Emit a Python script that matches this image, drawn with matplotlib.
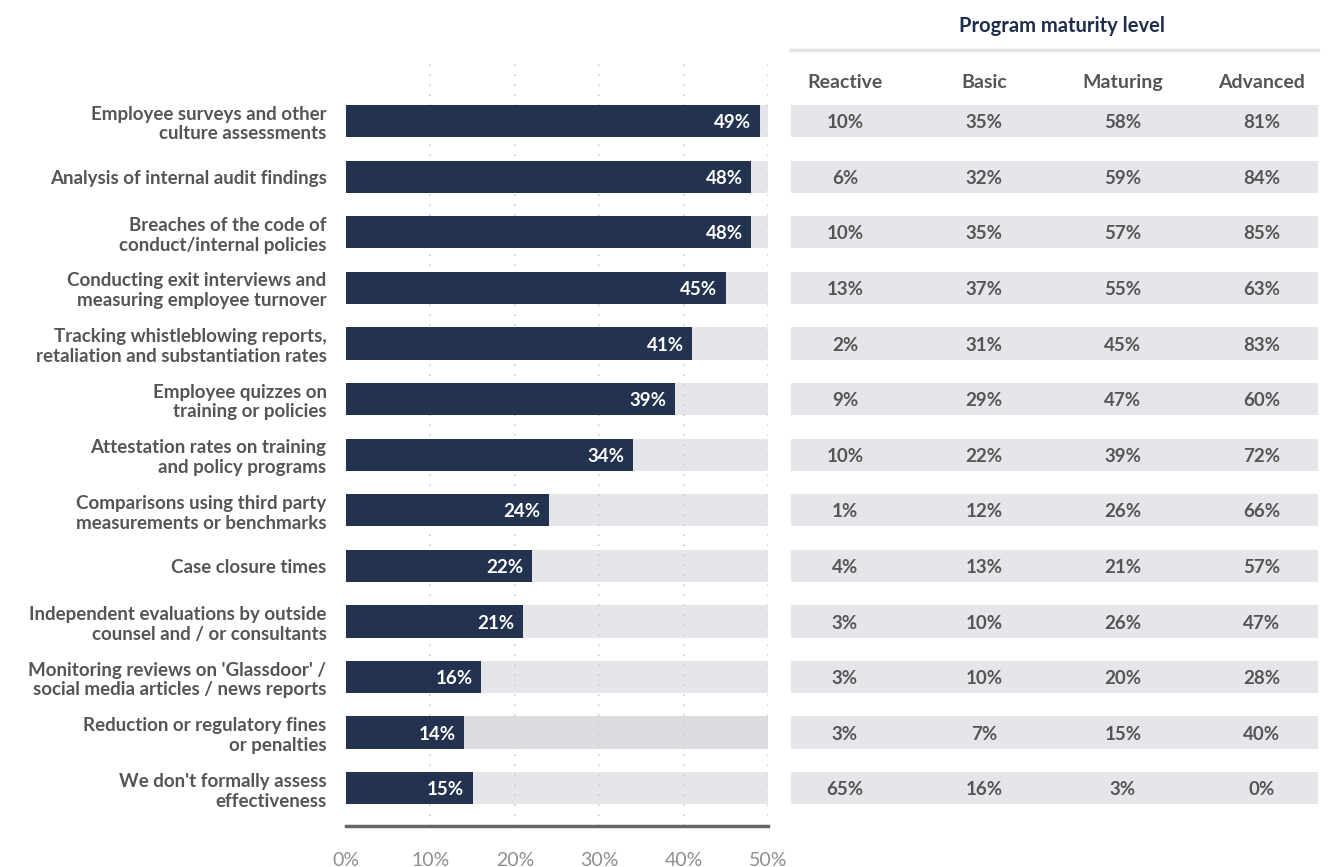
import matplotlib.pyplot as plt

plt.rcParams["font.family"] = ["Lato", "DejaVu Sans"]

categories = [
    "Employee surveys and other\nculture assessments",
    "Analysis of internal audit findings",
    "Breaches of the code of\nconduct/internal policies",
    "Conducting exit interviews and\nmeasuring employee turnover",
    "Tracking whistleblowing reports,\nretaliation and substantiation rates",
    "Employee quizzes on\ntraining or policies",
    "Attestation rates on training\nand policy programs",
    "Comparisons using third party\nmeasurements or benchmarks",
    "Case closure times",
    "Independent evaluations by outside\ncounsel and / or consultants",
    "Monitoring reviews on 'Glassdoor' /\nsocial media articles / news reports",
    "Reduction or regulatory fines\nor penalties",
    "We don't formally assess\neffectiveness",
]
overall = [49, 48, 48, 45, 41, 39, 34, 24, 22, 21, 16, 14, 15]

levels = ["Reactive", "Basic", "Maturing", "Advanced"]
reactive = [10, 6, 10, 13, 2, 9, 10, 1, 4, 3, 3, 3, 65]
basic = [35, 32, 35, 37, 31, 29, 22, 12, 13, 10, 10, 7, 16]
maturing = [58, 59, 57, 55, 45, 47, 39, 26, 21, 26, 20, 15, 3]
advanced = [81, 84, 85, 63, 83, 60, 72, 66, 57, 47, 28, 40, 0]
xticks = [0, 10, 20, 30, 40, 50]

navy = "#22324f"
track = "#e5e6e9"
text_gray = "#555555"

W, H = 1329, 867
fig = plt.figure(figsize=(W / 100, H / 100), dpi=100)

top_px, bot_px = 60, 826
ax_box = [346 / W, 1 - bot_px / H, (768 - 346) / W, (bot_px - top_px) / H]
ax = fig.add_axes(ax_box)
n = len(categories)
ylim = (12.68, -1.1)
rows = list(range(n))
bar_h = 0.58

track_colors = [track] * n
track_colors[11] = "#dcdce0"
ax.barh(rows, [50] * n, height=bar_h, color=track_colors, zorder=1)
ax.barh(rows, overall, height=bar_h, color=navy, zorder=3)
for xv in xticks[1:]:
    ax.axvline(xv, color="#cfcfcf", lw=1.2, ls=(0, (1, 5)), zorder=2)
for y, v in zip(rows, overall):
    ax.text(v - 1.0, y + 0.03, f"{v}%", ha="right", va="center",
            color="white", fontsize=13.5, fontweight="bold", zorder=4)

ax.set_xlim(0, 50)
ax.set_ylim(*ylim)
ax.set_yticks(rows)
ax.set_yticklabels(categories, fontsize=13.5, fontweight="bold",
                   color=text_gray, linespacing=1.2)
ax.set_xticks(xticks)
ax.set_xticklabels([f"{t}%" for t in xticks], fontsize=14,
                   color="#8f8f8f")
ax.tick_params(axis="both", length=0)
ax.tick_params(axis="y", pad=14)
ax.tick_params(axis="x", pad=19)
for s in ["top", "right", "left"]:
    ax.spines[s].set_visible(False)
ax.spines["bottom"].set_color("#666666")
ax.spines["bottom"].set_linewidth(2.5)

# table on the right
tx = fig.add_axes([791 / W, ax_box[1], (1318 - 791) / W, ax_box[3]])
tx.set_xlim(0, 527)
tx.set_ylim(*ylim)
tx.axis("off")
col_x = [54, 193, 332, 471]
tx.barh(rows, [527] * n, height=bar_h, left=0, color=track)
for cx, name, vals in zip(col_x, levels, [reactive, basic, maturing, advanced]):
    tx.text(cx, -0.70, name, ha="center", va="center", fontsize=14,
            fontweight="bold", color=text_gray, clip_on=False)
    for y, v in zip(rows, vals):
        tx.text(cx, y + 0.03, f"{v}%", ha="center", va="center",
                fontsize=13.5, fontweight="bold", color=text_gray)
tx.plot([0, 527], [-1.28, -1.28], color="#e3e3e6", lw=2.5, clip_on=False)
tx.text(271, -1.71, "Program maturity level", ha="center", va="center",
        fontsize=14.5, fontweight="bold", color="#1f2d4d", clip_on=False)

fig.savefig("out.png", dpi=100)
